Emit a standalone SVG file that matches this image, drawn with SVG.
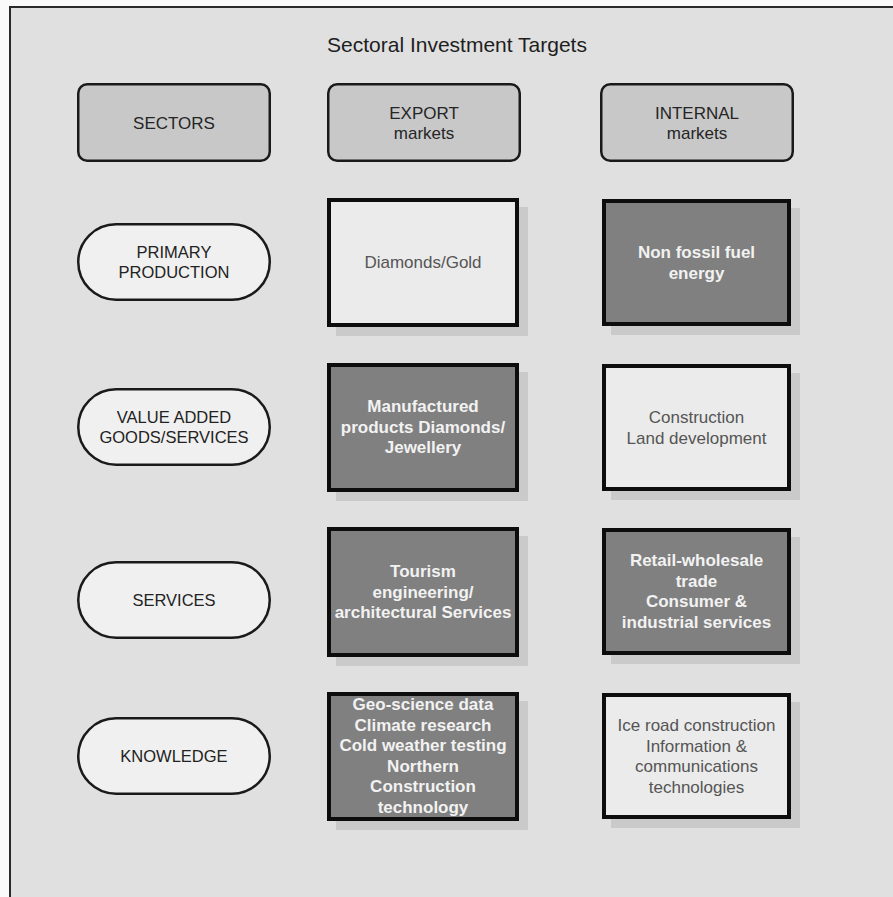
<svg xmlns="http://www.w3.org/2000/svg" width="893" height="897" viewBox="0 0 893 897">
<defs>
<style>
text{font-family:"Liberation Sans",Arial,sans-serif;text-anchor:middle}
.title{font-size:21px;fill:#1e1e1e}
.hdr rect{fill:#c8c8c8;stroke:#1a1a1a;stroke-width:2.5}
.hdr text{font-size:17px;fill:#252525}
.pill rect{fill:#f0f0f0;stroke:#1a1a1a;stroke-width:2.5}
.pill text{font-size:16.5px;fill:#222}
.shadow{fill:#cacaca}
.box rect.b{stroke:#0d0d0d;stroke-width:4}
.light rect.b{fill:#ebebeb}
.light text{font-size:17px;fill:#555}
.dark rect.b{fill:#808080}
.dark text{font-size:17px;font-weight:bold;fill:#f2f2f2}
</style>
</defs>
<rect x="0" y="0" width="893" height="897" fill="#fafafa"/>
<rect id="frame" x="10" y="7" width="900" height="900" fill="#e0e0e0" stroke="#2a2a2a" stroke-width="2"/>
<text class="title" x="457" y="52">Sectoral Investment Targets</text>

<g id="hdr-sectors" class="hdr"><rect x="78.25" y="84.25" width="191.5" height="76.5" rx="9"/><text x="174" y="128.5">SECTORS</text></g>
<g id="hdr-export" class="hdr"><rect x="328.25" y="84.25" width="191.5" height="76.5" rx="9"/><text x="424" y="118.5">EXPORT</text><text x="424" y="138.5">markets</text></g>
<g id="hdr-internal" class="hdr"><rect x="601.25" y="84.25" width="191.5" height="76.5" rx="9"/><text x="697" y="118.5">INTERNAL</text><text x="697" y="138.5">markets</text></g>

<g id="sector-primary" class="pill"><rect x="78.25" y="224.25" width="191.5" height="75.5" rx="37.75"/><text x="174" y="258">PRIMARY</text><text x="174" y="278">PRODUCTION</text></g>
<g id="sector-value" class="pill"><rect x="78.25" y="389.25" width="191.5" height="75.5" rx="37.75"/><text x="174" y="423">VALUE ADDED</text><text x="174" y="443">GOODS/SERVICES</text></g>
<g id="sector-services" class="pill"><rect x="78.25" y="562.25" width="191.5" height="75.5" rx="37.75"/><text x="174" y="606">SERVICES</text></g>
<g id="sector-knowledge" class="pill"><rect x="78.25" y="718.25" width="191.5" height="75.5" rx="37.75"/><text x="174" y="762">KNOWLEDGE</text></g>

<g id="export-primary" class="box light"><rect class="shadow" x="336" y="207" width="192" height="129"/><rect class="b" x="329" y="200" width="188" height="125"/><text x="423" y="268">Diamonds/Gold</text></g>
<g id="internal-primary" class="box dark"><rect class="shadow" x="611" y="208" width="189" height="127"/><rect class="b" x="604" y="201" width="185" height="123"/><text x="696.5" y="258">Non fossil fuel</text><text x="696.5" y="278.5">energy</text></g>

<g id="export-value" class="box dark"><rect class="shadow" x="336" y="372" width="192" height="129"/><rect class="b" x="329" y="365" width="188" height="125"/><text x="423" y="412">Manufactured</text><text x="423" y="432.5">products Diamonds/</text><text x="423" y="453">Jewellery</text></g>
<g id="internal-value" class="box light"><rect class="shadow" x="611" y="373" width="189" height="127"/><rect class="b" x="604" y="366" width="185" height="123"/><text x="696.5" y="423">Construction</text><text x="696.5" y="443.5">Land development</text></g>

<g id="export-services" class="box dark"><rect class="shadow" x="336" y="536" width="192" height="130"/><rect class="b" x="329" y="529" width="188" height="126"/><text x="423" y="577">Tourism</text><text x="423" y="597.5">engineering/</text><text x="423" y="618">architectural Services</text></g>
<g id="internal-services" class="box dark"><rect class="shadow" x="611" y="537" width="189" height="127"/><rect class="b" x="604" y="530" width="185" height="123"/><text x="696.5" y="566">Retail-wholesale</text><text x="696.5" y="586.5">trade</text><text x="696.5" y="607">Consumer &amp;</text><text x="696.5" y="627.5">industrial services</text></g>

<g id="export-knowledge" class="box dark"><rect class="shadow" x="336" y="701" width="192" height="129"/><rect class="b" x="329" y="694" width="188" height="125"/><text x="423" y="710">Geo-science data</text><text x="423" y="730.5">Climate research</text><text x="423" y="751">Cold weather testing</text><text x="423" y="771.5">Northern</text><text x="423" y="792">Construction</text><text x="423" y="812.5">technology</text></g>
<g id="internal-knowledge" class="box light"><rect class="shadow" x="611" y="702" width="189" height="126"/><rect class="b" x="604" y="695" width="185" height="122"/><text x="696.5" y="731">Ice road construction</text><text x="696.5" y="751.5">Information &amp;</text><text x="696.5" y="772">communications</text><text x="696.5" y="792.5">technologies</text></g>

<g id="connectors"></g>
</svg>
